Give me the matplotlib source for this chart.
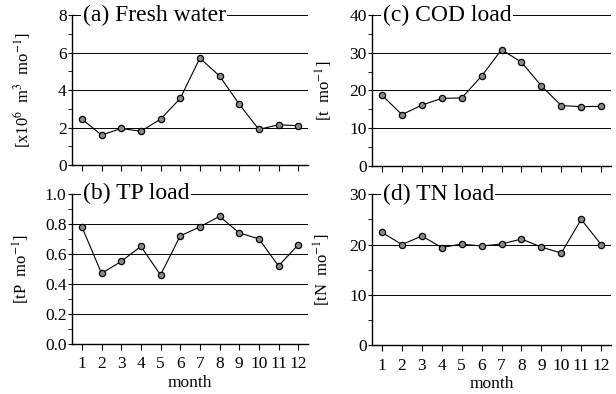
import numpy as np
import matplotlib
matplotlib.use('Agg')
import matplotlib.pyplot as plt
from matplotlib.ticker import MultipleLocator, FormatStrFormatter

plt.rcParams['font.family'] = ['Liberation Serif', 'DejaVu Serif']
plt.rcParams['mathtext.fontset'] = 'stix'

# monthly data
months = np.arange(1, 13)
fresh_water = [2.45, 1.6, 1.95, 1.8, 2.45, 3.55, 5.7, 4.75, 3.25, 1.9, 2.15, 2.1]
cod_load = [18.7, 13.6, 16.1, 17.9, 18.0, 23.8, 30.8, 27.5, 21.2, 16.0, 15.7, 15.8]
tp_load = [0.78, 0.47, 0.55, 0.65, 0.46, 0.72, 0.78, 0.85, 0.74, 0.70, 0.52, 0.66]
tn_load = [22.4, 20.0, 21.7, 19.4, 20.1, 19.7, 20.1, 21.1, 19.5, 18.3, 25.0, 20.0]
month_labels = [str(m) for m in months]

panels = [
    # data, title, ylabel, ymax, major, minor, fmt, axes position, ylabel x
    (fresh_water, '(a) Fresh water', r'[x10$^6$  m$^3$  mo$^{-1}$]', 8, 2, 1, '%d',
     [0.117, 0.581, 0.383, 0.381], -0.165),
    (cod_load, '(c) COD load', r'[t  mo$^{-1}$]', 40, 10, 5, '%d',
     [0.604, 0.579, 0.388, 0.383], -0.155),
    (tp_load, '(b) TP load', r'[tP  mo$^{-1}$]', 1.0, 0.2, 0.1, '%.1f',
     [0.117, 0.127, 0.383, 0.381], -0.17),
    (tn_load, '(d) TN load', r'[tN  mo$^{-1}$]', 30, 10, 5, '%d',
     [0.604, 0.124, 0.388, 0.383], -0.163),
]

fig = plt.figure(figsize=(6.16, 3.94), dpi=100)

for i, (vals, title, ylab, ymax, major, minor, fmt, pos, ylx) in enumerate(panels):
    ax = fig.add_axes(pos)
    ax.set_xlim(0.5, 12.5)
    ax.set_ylim(0, ymax)

    # horizontal grid lines at major ticks
    for yv in np.arange(major, ymax + major / 2, major):
        ax.axhline(yv, color='black', lw=0.7, zorder=1)

    ax.plot(months, vals, color='black', lw=0.8, marker='o', ms=4.5,
            mfc='#8a8a8a', mec='black', mew=0.9, zorder=3)

    ax.spines['top'].set_visible(False)
    ax.spines['right'].set_visible(False)
    ax.spines['left'].set_linewidth(1.0)
    ax.spines['bottom'].set_linewidth(1.0)

    ax.yaxis.set_major_locator(MultipleLocator(major))
    ax.yaxis.set_minor_locator(MultipleLocator(minor))
    ax.yaxis.set_major_formatter(FormatStrFormatter(fmt))
    ax.tick_params(axis='y', which='major', direction='inout', length=6,
                   labelsize=12.5, pad=1)
    ax.tick_params(axis='y', which='minor', direction='out', length=3)

    ax.set_xticks(months)
    ax.tick_params(axis='x', direction='out', length=4, labelsize=12.5, pad=5)
    if i in (2, 3):
        ax.set_xticklabels(month_labels)
        ax.set_xlabel('month', fontsize=12.5, labelpad=2)
    else:
        ax.set_xticklabels([])

    ax.set_ylabel(ylab, fontsize=12)
    ax.yaxis.set_label_coords(ylx, 0.5)

    ax.text(0.045, 1.0, title, transform=ax.transAxes, fontsize=17,
            va='center', ha='left', zorder=5,
            bbox=dict(facecolor='white', edgecolor='none', pad=1.0))

fig.savefig('out.png', dpi=100)
